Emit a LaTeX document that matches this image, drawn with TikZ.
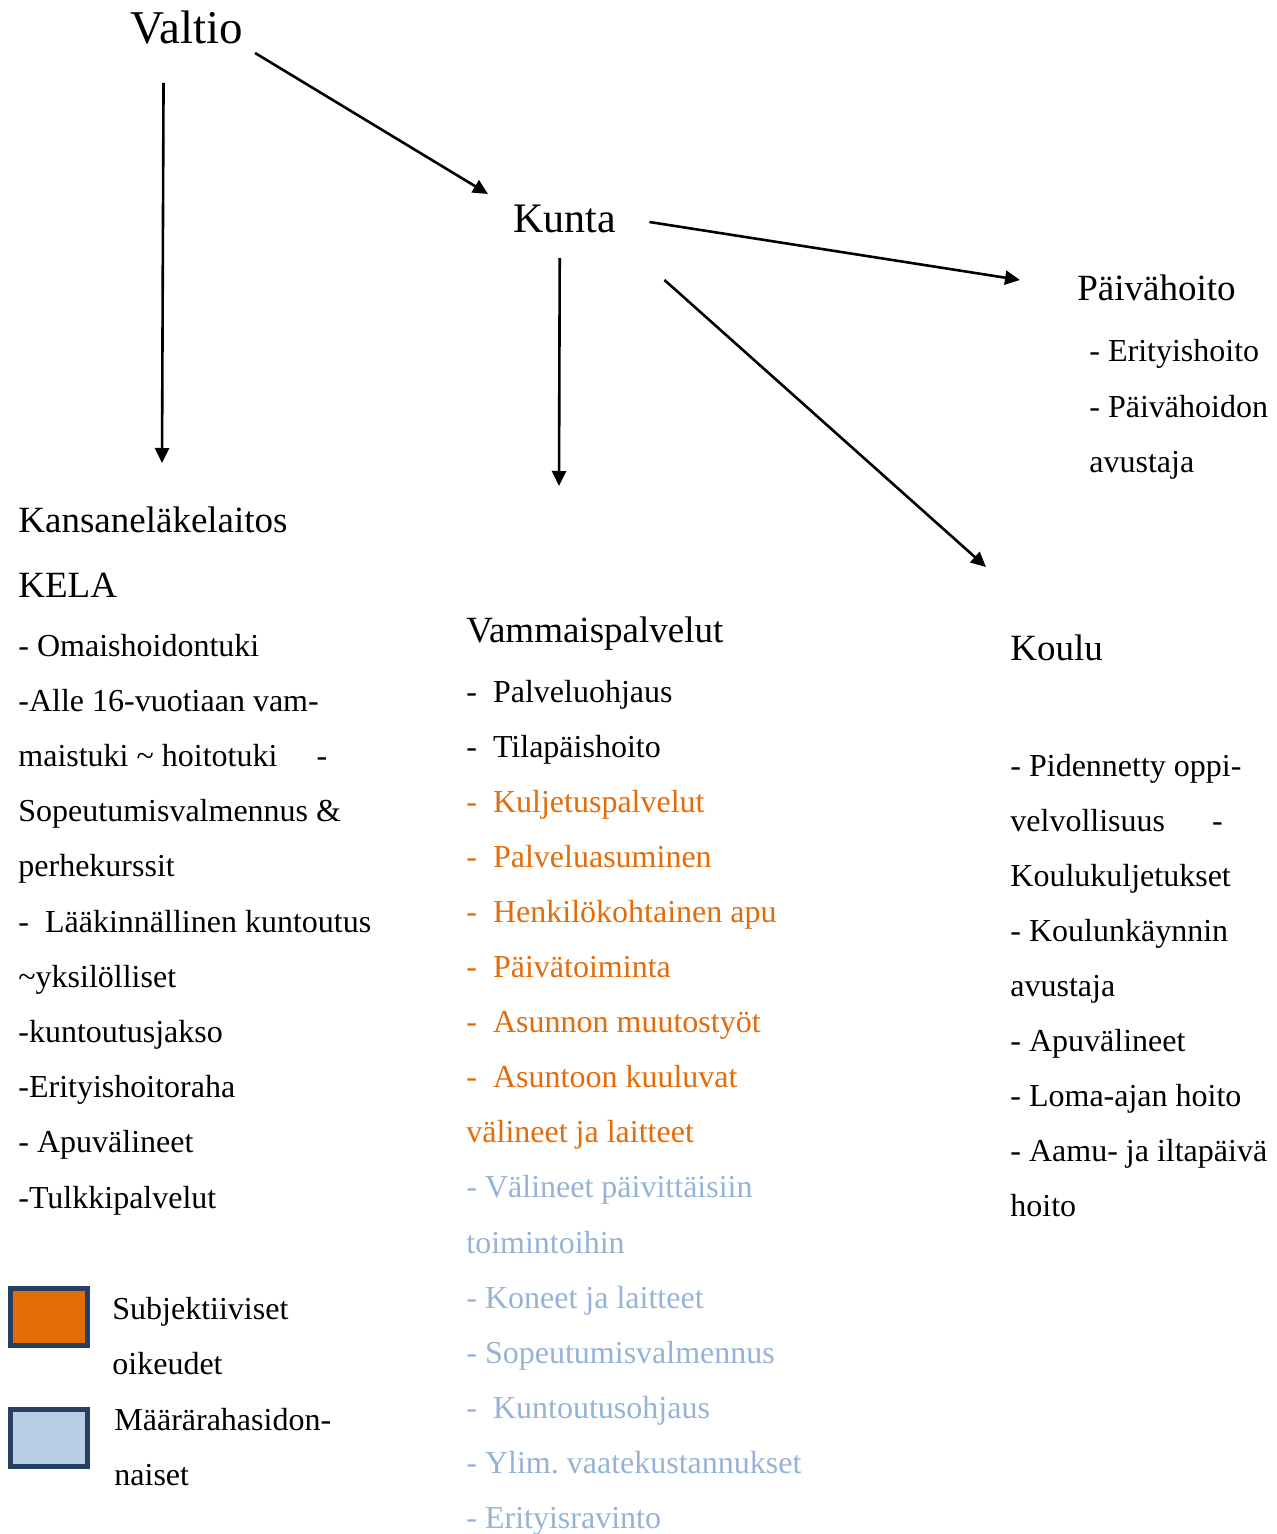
\documentclass[tikz,border=0pt]{standalone}
\usepackage{fontspec}
\setmainfont{Liberation Serif}
\usetikzlibrary{arrows.meta,calc}
\definecolor{subjorange}{HTML}{E36C09}
\definecolor{rahablue}{HTML}{95B3D7}
\definecolor{boxblue}{HTML}{B9CDE5}
\definecolor{boxedge}{HTML}{254061}

\begin{document}
\begin{tikzpicture}[x=0.5pt,y=-0.5pt,
    txt/.style={anchor=base west, inner sep=0pt, font=\fontsize{16}{19}\selectfont},
    head/.style={anchor=base west, inner sep=0pt, font=\fontsize{18.5}{22}\selectfont},
    arr/.style={-{Triangle[length=7.5pt,width=7pt]}, line width=1.3pt},
    legbox/.style={draw=boxedge, line width=2.5pt, minimum width=38.5pt, minimum height=28.5pt, inner sep=0pt}]
  \useasboundingbox (0,0) rectangle (1276,1534);

  % top level
  \node[anchor=base west, inner sep=0pt, font=\fontsize{23.5}{28}\selectfont] (valtio) at (130,44) {Valtio};
  \node[anchor=base west, inner sep=0pt, font=\fontsize{21}{25}\selectfont] (kunta) at (513,233) {Kunta};

  % headings
  \node[head] (kansan) at (18,532) {Kansaneläkelaitos};
  \node[head] (kela) at (18,597) {KELA};
  \node[head] (vammais) at (466,642) {Vammaispalvelut};
  \node[head] (koulu) at (1010,660) {Koulu};
  \node[head] (paiva) at (1077,301) {Päivähoito};

  % KELA column
  \foreach \t [count=\i] in {{- Omaishoidontuki}, {-Alle 16-vuotiaan vam-},
      {maistuki \textasciitilde{} hoitotuki\hspace{19.5pt}-}, {Sopeutumisvalmennus \&},
      {perhekurssit}, {-~~Lääkinnällinen kuntoutus}, {\textasciitilde yksilölliset},
      {-kuntoutusjakso}, {-Erityishoitoraha}, {- Apuvälineet}, {-Tulkkipalvelut}}
    \node[txt] (kela\i) at (18,{656+55.2*(\i-1)}) {\t};

  % Vammaispalvelut column
  \foreach \t/\c [count=\i] in {{-~~Palveluohjaus}/black, {-~~Tilapäishoito}/black,
      {-~~Kuljetuspalvelut}/subjorange, {-~~Palveluasuminen}/subjorange,
      {-~~Henkilökohtainen apu}/subjorange, {-~~Päivätoiminta}/subjorange,
      {-~~Asunnon muutostyöt}/subjorange, {-~~Asuntoon kuuluvat}/subjorange,
      {välineet ja laitteet}/subjorange, {- Välineet päivittäisiin}/rahablue,
      {toimintoihin}/rahablue, {- Koneet ja laitteet}/rahablue,
      {- Sopeutumisvalmennus}/rahablue, {-~~Kuntoutusohjaus}/rahablue,
      {- Ylim.\ vaatekustannukset}/rahablue, {- Erityisravinto}/rahablue}
    \node[txt, text=\c] (vp\i) at (466,{702+55.1*(\i-1)}) {\t};

  % Koulu column
  \foreach \t [count=\i] in {{- Pidennetty oppi-}, {velvollisuus\hspace{23.5pt}-},
      {Koulukuljetukset}, {- Koulunkäynnin}, {avustaja}, {- Apuvälineet},
      {- Loma-ajan hoito}, {- Aamu- ja iltapäivä}, {hoito}}
    \node[txt] (koulu\i) at (1010,{776+55.1*(\i-1)}) {\t};

  % Päivähoito
  \node[txt] (paiva1) at (1089,362) {- Erityishoito};
  \node[txt] (paiva2) at (1089,417) {- Päivähoidon};
  \node[txt] (paiva3) at (1089,472) {avustaja};

  % legend
  \node[legbox, fill=subjorange] (subjbox) at (49,1317) {};
  \node[legbox, fill=boxblue] (rahabox) at (49,1438) {};
  \node[txt] (subj1) at (112,1319) {Subjektiiviset};
  \node[txt] (subj2) at (112,1374) {oikeudet};
  \node[txt] (raha1) at (114,1430) {Määrärahasidon-};
  \node[txt] (raha2) at (114,1485) {naiset};

  % arrows
  \draw[arr] ($(valtio.base east)+(12,9)$) -- ($(kunta.base west)+(-25,-39)$);
  \draw[arr] ($(valtio.base)+(-23,39)$) -- ($(kansan.base west)+(144,-69)$);
  \draw[arr] ($(kunta.base east)+(33,-11)$) -- ($(paiva.base west)+(-57,-21)$);
  \draw[arr] ($(kunta.base)+(-5,25)$) -- ($(vammais.base west)+(93,-156)$);
  \draw[arr] ($(kunta.base east)+(48,47)$) -- ($(koulu.base west)+(-24,-93)$);
\end{tikzpicture}
\end{document}
